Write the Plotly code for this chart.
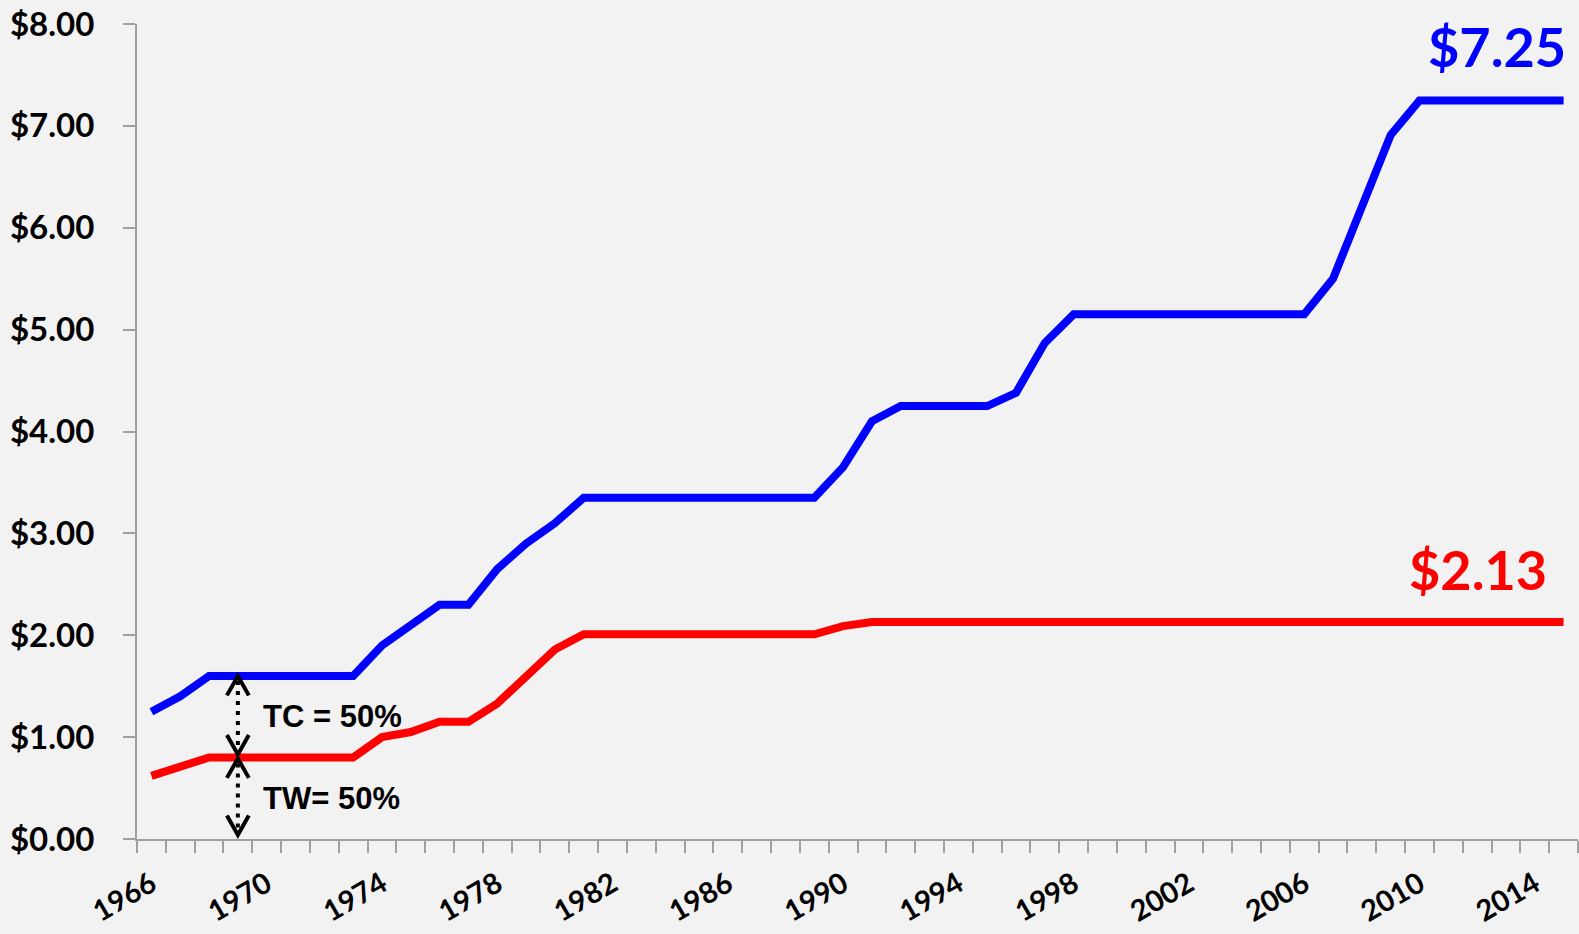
import plotly.graph_objects as go

years = list(range(1966, 2016))
cash_wage = [1.25, 1.40, 1.60, 1.60, 1.60, 1.60, 1.60, 1.60, 1.90, 2.10,
             2.30, 2.30, 2.65, 2.90, 3.10, 3.35, 3.35, 3.35, 3.35, 3.35,
             3.35, 3.35, 3.35, 3.35, 3.65, 4.10, 4.25, 4.25, 4.25, 4.25,
             4.38, 4.87, 5.15, 5.15, 5.15, 5.15, 5.15, 5.15, 5.15, 5.15,
             5.15, 5.50, 6.21, 6.91, 7.25, 7.25, 7.25, 7.25, 7.25, 7.25]
tipped_wage = [0.62, 0.70, 0.80, 0.80, 0.80, 0.80, 0.80, 0.80, 1.00, 1.05,
               1.15, 1.15, 1.33, 1.60, 1.86, 2.01, 2.01, 2.01, 2.01, 2.01,
               2.01, 2.01, 2.01, 2.01, 2.09, 2.13, 2.13, 2.13, 2.13, 2.13,
               2.13, 2.13, 2.13, 2.13, 2.13, 2.13, 2.13, 2.13, 2.13, 2.13,
               2.13, 2.13, 2.13, 2.13, 2.13, 2.13, 2.13, 2.13, 2.13, 2.13]
label_years = list(range(1966, 2016, 4))
y_ticks = list(range(0, 9))
arrow_year = 1969
tc_text = "TC = 50%"
tw_text = "TW= 50%"

BLUE = "#0000ff"
RED = "#ff0000"
AX = "#a0a0a0"
BG = "#f2f2f2"
TICKFONT = dict(family="Lato", size=33, color="black", weight="bold")

fig = go.Figure()
fig.add_trace(go.Scatter(x=years, y=cash_wage, mode="lines",
                         line=dict(color=BLUE, width=8), showlegend=False))
fig.add_trace(go.Scatter(x=years, y=tipped_wage, mode="lines",
                         line=dict(color=RED, width=8), showlegend=False))

# arrows
i = years.index(arrow_year)
top, mid, bot = cash_wage[i], tipped_wage[i], 0.0
dx, dy = 0.38, 0.19
shapes = []
for (y1, y2) in [(top, mid + 0.03), (mid - 0.01, bot + 0.04)]:
    shapes.append(dict(type="line", xref="x", yref="y", x0=arrow_year, x1=arrow_year,
                       y0=y1 - 0.05, y1=y2 + 0.05,
                       line=dict(color="black", width=4, dash="4px,6px")))
    shapes.append(dict(type="path", xref="x", yref="y",
                       path=f"M {arrow_year-dx},{y1-dy} L {arrow_year},{y1} L {arrow_year+dx},{y1-dy}",
                       line=dict(color="black", width=4)))
    shapes.append(dict(type="path", xref="x", yref="y",
                       path=f"M {arrow_year-dx},{y2+dy} L {arrow_year},{y2} L {arrow_year+dx},{y2+dy}",
                       line=dict(color="black", width=4)))

annotations = [
    dict(x=arrow_year + 0.8, y=(top + mid) / 2, xref="x", yref="y", text=tc_text,
         showarrow=False, xanchor="left", yanchor="middle",
         font=dict(family="Liberation Sans", size=31, color="black", weight="bold")),
    dict(x=arrow_year + 0.8, y=(mid + bot) / 2, xref="x", yref="y", text=tw_text,
         showarrow=False, xanchor="left", yanchor="middle",
         font=dict(family="Liberation Sans", size=31, color="black", weight="bold")),
    dict(x=0.993, y=cash_wage[-1] + 0.53, xref="paper", yref="y",
         text=f"${cash_wage[-1]:.2f}", showarrow=False, xanchor="right", yanchor="middle",
         font=dict(family="Lato", size=54, color=BLUE, weight="bold")),
    dict(x=0.980, y=tipped_wage[-1] + 0.52, xref="paper", yref="y",
         text=f"${tipped_wage[-1]:.2f}", showarrow=False, xanchor="right", yanchor="middle",
         font=dict(family="Lato", size=54, color=RED, weight="bold")),
]

fig.update_layout(
    template="none",
    width=1579, height=934,
    paper_bgcolor=BG, plot_bgcolor=BG,
    margin=dict(l=137, r=1, t=24, b=95, pad=0),
    shapes=shapes, annotations=annotations, showlegend=False,
    xaxis=dict(range=[years[0] - 0.5, years[-1] + 0.5], tickmode="array",
               tickvals=label_years, ticktext=[str(y) for y in label_years],
               tickangle=-30, ticks="", ticklen=0, showgrid=False, zeroline=False,
               automargin=False,
               showline=True, linecolor=AX, linewidth=2, tickfont=dict(TICKFONT, size=29),
               ticklabelstandoff=15,
               minor=dict(tickmode="linear", tick0=years[0] - 0.5, dtick=1, ticks="outside",
                          ticklen=12, tickwidth=2, tickcolor=AX, showgrid=False)),
    yaxis=dict(range=[0, 8], tickmode="array", tickvals=y_ticks, automargin=False,
               ticktext=[f"${v:.2f}" for v in y_ticks], ticks="outside", ticklen=12,
               tickwidth=2, tickcolor=AX, showgrid=False, zeroline=False, showline=True,
               linecolor=AX, linewidth=2, tickfont=TICKFONT, ticklabelstandoff=22),
)

fig.write_html("out.html", config={"displayModeBar": False},
               post_script="document.body.style.margin='0';document.body.style.background='#f2f2f2';document.body.style.overflow='hidden';")
